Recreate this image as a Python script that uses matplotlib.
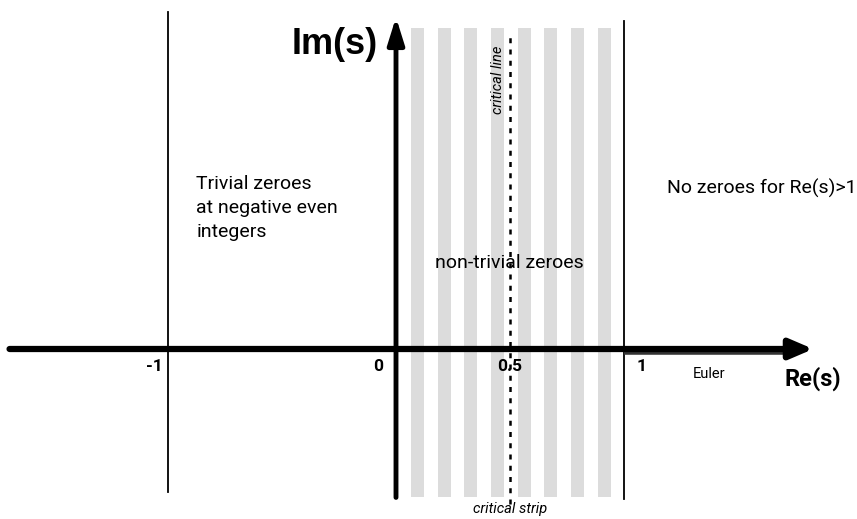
import matplotlib.pyplot as plt
from matplotlib.patches import Rectangle

plt.rcParams['font.family'] = ['Roboto', 'DejaVu Sans']

# positions on the real axis
tick_pos = [-1, 0, 0.5, 1]
tick_labels = ['-1', '0', '0.5', '1']
# grey bands inside the critical strip (left edges, width)
band_left = [0.066, 0.184, 0.298, 0.417, 0.535, 0.649, 0.768, 0.886]
band_width = 0.057
euler_from, euler_to = 1.0, 1.71

fig = plt.figure(figsize=(8.57, 5.19), dpi=100)
ax = fig.add_axes([0, 0, 1, 1])
ax.set_xlim(-396 / 228, 461 / 228)
ax.set_ylim(-170 / 228, 349 / 228)
ax.axis('off')

# critical strip bands
for b in band_left:
    ax.add_patch(Rectangle((b, -0.65), band_width, 2.06, color='#dcdcdc', lw=0, zorder=1))

# vertical lines at -1 and 1
ax.plot([-1, -1], [-0.625, 1.48], color='black', lw=1.3, zorder=2)
ax.plot([1, 1], [-0.66, 1.44], color='black', lw=1.3, zorder=2)

# critical line
ax.plot([0.5, 0.5], [-0.68, 1.37], color='black', lw=1.8, ls=(0, (2, 2.5)), zorder=3)

# Euler region
ax.plot([euler_from, euler_to], [-0.012, -0.012], color='#333333', lw=4, solid_capstyle='butt', zorder=3)

# axes with arrows
ax.annotate('', xy=(1.83, 0), xytext=(-1.695, 0),
            arrowprops=dict(arrowstyle='-|>,head_length=1.4,head_width=0.6', lw=4.5, color='black',
                            shrinkA=0, shrinkB=0), zorder=4)
ax.annotate('', xy=(0, 1.455), xytext=(0, -0.651),
            arrowprops=dict(arrowstyle='-|>,head_length=1.6,head_width=0.5', lw=3.5, color='black',
                            shrinkA=0, shrinkB=0), zorder=4)

# tick labels
offsets = {'-1': -0.06, '0': -0.08, '0.5': 0.0, '1': 0.075}
for p, l in zip(tick_pos, tick_labels):
    ax.text(p + offsets[l], -0.075, l, ha='center', va='center', fontsize=12.5, fontweight='bold', zorder=5)

ax.text(-0.078, 1.335, 'Im(s)', ha='right', va='center', fontsize=26, fontweight='bold',
        family=['Liberation Sans', 'DejaVu Sans'])
ax.text(1.829, -0.13, 'Re(s)', ha='center', va='center', fontsize=17, fontweight='bold')
ax.text(1.375, -0.11, 'Euler', ha='center', va='center', fontsize=10.5)

ax.text(0.448, 1.18, 'critical line', rotation=90, ha='center', va='center', fontsize=10.5, style='italic')
ax.text(0.5, -0.7, 'critical strip', ha='center', va='center', fontsize=10.5, style='italic')

ax.text(-0.875, 0.62, 'Trivial zeroes\nat negative even\nintegers', ha='left', va='center',
        fontsize=14, linespacing=1.42)
ax.text(0.17, 0.377, 'non-trivial zeroes', ha='left', va='center', fontsize=14)
ax.text(1.188, 0.706, 'No zeroes for Re(s)>1', ha='left', va='center', fontsize=14)

fig.savefig('out.png', dpi=100)
